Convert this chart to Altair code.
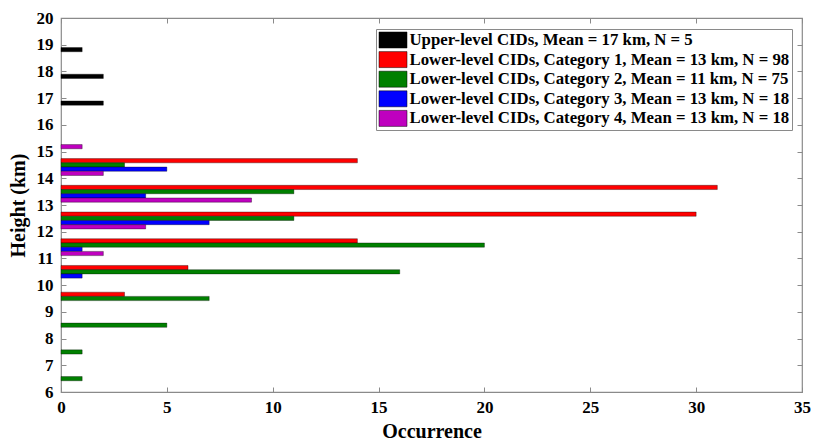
import altair as alt
import pandas as pd

# Height bin centres (km), bottom to top
bins = [6.5, 7.5, 8.5, 9.5, 10.5, 11.5, 12.5, 13.5, 14.5, 15.5, 16.5, 17.5, 18.5, 19.5]

series = [
    "Upper-level CIDs, Mean = 17 km, N = 5",
    "Lower-level CIDs, Category 1, Mean = 13 km, N = 98",
    "Lower-level CIDs, Category 2, Mean = 11 km, N = 75",
    "Lower-level CIDs, Category 3, Mean = 13 km, N = 18",
    "Lower-level CIDs, Category 4, Mean = 13 km, N = 18",
]
colors = ["#000000", "#ff0000", "#008000", "#0000ff", "#bf00bf"]

upper = [0, 0, 0, 0, 0, 0, 0, 0, 0, 0, 2, 2, 1, 0]
cat1 = [0, 0, 0, 3, 6, 14, 30, 31, 14, 0, 0, 0, 0, 0]
cat2 = [1, 1, 5, 7, 16, 20, 11, 11, 3, 0, 0, 0, 0, 0]
cat3 = [0, 0, 0, 0, 1, 1, 7, 4, 5, 0, 0, 0, 0, 0]
cat4 = [0, 0, 0, 0, 0, 2, 4, 9, 2, 1, 0, 0, 0, 0]

x_ticks = [0, 5, 10, 15, 20, 25, 30, 35]
y_ticks = [6, 7, 8, 9, 10, 11, 12, 13, 14, 15, 16, 17, 18, 19, 20]

rows = []
for name, vals in zip(series, [upper, cat1, cat2, cat3, cat4]):
    for b, v in zip(bins, vals):
        if v > 0:
            rows.append({"bin": str(b), "series": name, "count": v})
df = pd.DataFrame(rows)
bin_domain = [str(b) for b in reversed(bins)]

FONT = "Liberation Serif"
FRAME = "#8a8a8a"
W, H = 741, 374

bars = alt.Chart(df).mark_bar(stroke="#000000", strokeWidth=0.5, strokeOpacity=0.7).encode(
    x=alt.X("count:Q", scale=alt.Scale(domain=[0, 35], nice=False, zero=True),
            axis=alt.Axis(values=x_ticks, orient="bottom", title="Occurrence", grid=False,
                          domain=False, offset=-5, tickSize=5, tickColor=FRAME,
                          labelPadding=7, titlePadding=6, format="d", labelFlush=False)),
    y=alt.Y("bin:N", scale=alt.Scale(domain=bin_domain, paddingInner=0.21, paddingOuter=0.105),
            axis=None),
    yOffset=alt.YOffset("series:N", scale=alt.Scale(domain=series, paddingInner=0, paddingOuter=0)),
    color=alt.Color("series:N", scale=alt.Scale(domain=series, range=colors),
                    legend=alt.Legend(title=None, orient="none", legendX=315, legendY=11,
                                      symbolType="M-1.75,-1H1.75V1H-1.75Z", symbolSize=256,
                                      symbolStrokeWidth=0.5, symbolStrokeColor="#000000",
                                      symbolOffset=6, labelOffset=8,
                                      labelFont=FONT, labelFontSize=16.8, labelFontWeight="bold",
                                      labelColor="#000000", labelLimit=0,
                                      rowPadding=0.6, padding=2.5,
                                      strokeColor=FRAME, fillColor="#ffffff")),
)

top_axis = alt.Chart(pd.DataFrame({"x": x_ticks})).mark_point(opacity=0).encode(
    x=alt.X("x:Q", scale=alt.Scale(domain=[0, 35], nice=False),
            axis=alt.Axis(values=x_ticks, orient="top", title=None, labels=False, grid=False,
                          domain=False, offset=-5, tickSize=5, tickColor=FRAME)),
)

left_axis = alt.Chart(pd.DataFrame({"y": y_ticks})).mark_point(opacity=0).encode(
    y=alt.Y("y:Q", scale=alt.Scale(domain=[6, 20], nice=False, zero=False),
            axis=alt.Axis(values=y_ticks, orient="left", title="Height (km)", grid=False,
                          domain=False, offset=-5, tickSize=5, tickColor=FRAME,
                          labelPadding=8, titlePadding=8, format="d", labelFlush=False)),
)

right_axis = alt.Chart(pd.DataFrame({"y": y_ticks})).mark_point(opacity=0).encode(
    y=alt.Y("y:Q", scale=alt.Scale(domain=[6, 20], nice=False, zero=False),
            axis=alt.Axis(values=y_ticks, orient="right", title=None, labels=False, grid=False,
                          domain=False, offset=-5, tickSize=5, tickColor=FRAME)),
)

chart = alt.layer(bars, top_axis, left_axis, right_axis).resolve_scale(
    x="independent", y="independent"
).properties(
    width=W, height=H,
    autosize=alt.AutoSizeParams(type="none"),
    padding={"left": 61, "top": 18, "right": 12, "bottom": 51},
).configure_view(
    stroke=FRAME, strokeWidth=1.2
).configure_axis(
    labelFont=FONT, labelFontSize=17, labelFontWeight="bold", labelColor="#000000",
    titleFont=FONT, titleFontSize=20, titleFontWeight="bold", titleColor="#000000",
)

chart.save("out.html", embed_options={"renderer": "svg", "actions": False})
